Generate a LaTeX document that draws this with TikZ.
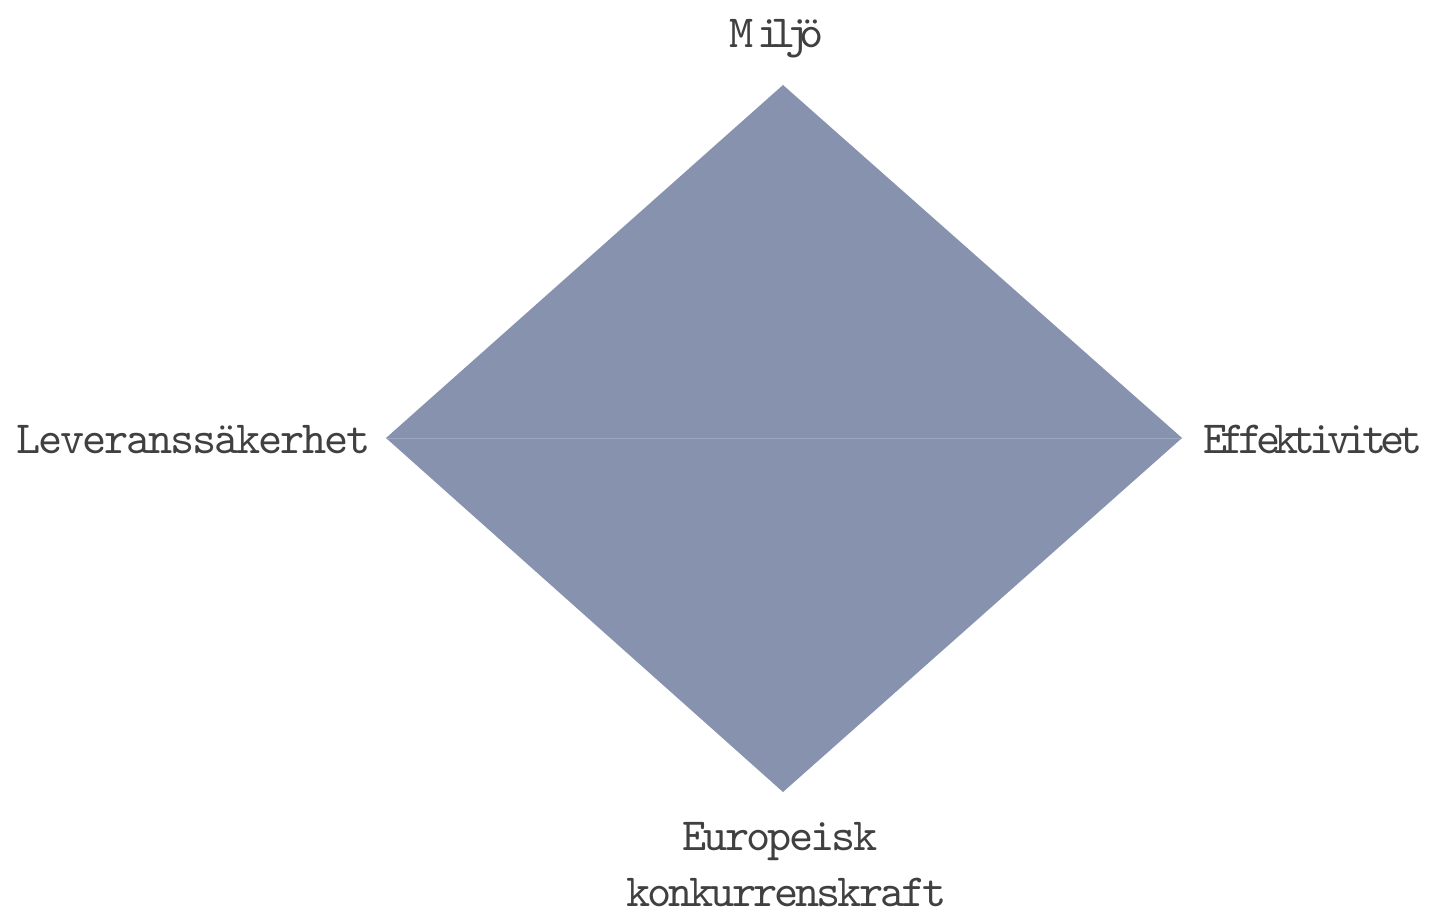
\documentclass[tikz,border=0pt]{standalone}
\usepackage{fontspec}
\newfontfamily\lmm{lmmono10-regular.otf}
\definecolor{dia}{HTML}{8692AE}
\definecolor{seam}{HTML}{9CA6BF}
\definecolor{txt}{HTML}{404040}
\begin{document}
\begin{tikzpicture}[x=1pt,y=-1pt,
  lbl/.style={inner sep=0pt,text=txt,font=\fontsize{46}{56}\lmm}]
\useasboundingbox (0,0) rectangle (1432,912);
\coordinate (T) at (783,85);
\coordinate (L) at (386,438);
\coordinate (R) at (1182,438);
\coordinate (B) at (783,792);
\fill[dia] (T) -- (R) -- (B) -- (L) -- cycle;
\draw[seam,line width=0.8pt] (L) -- (R);
\node[lbl,anchor=base west] (m) at (729,48) {M\kern4pt\addfontfeatures{LetterSpace=-22}ilj\"o};
\node[lbl,anchor=base west] (lv) at (16,453) {\addfontfeatures{LetterSpace=-4.6}Leveranss\"akerhet};
\node[lbl,anchor=base west] (ef) at (1203,453) {\addfontfeatures{LetterSpace=-14}Effektivitet};
\node[lbl,anchor=base west] (eu) at (682,850) {\addfontfeatures{LetterSpace=-6}Europeisk};
\node[lbl,anchor=base west] (ko) at (626,906) {\addfontfeatures{LetterSpace=-6.5}konkurrenskraft};
\end{tikzpicture}
\end{document}
